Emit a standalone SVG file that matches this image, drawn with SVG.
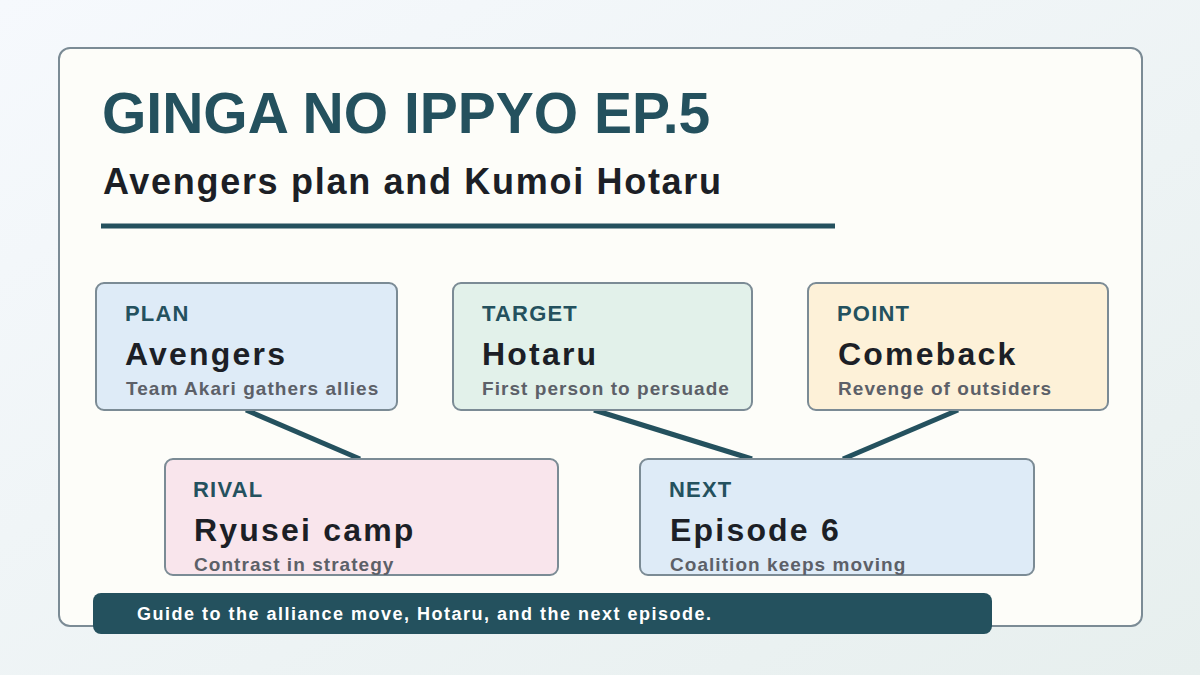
<svg xmlns="http://www.w3.org/2000/svg" width="1200" height="675" viewBox="0 0 1200 675">
<defs>
<linearGradient id="bg" x1="0" y1="0" x2="1" y2="1">
<stop offset="0" stop-color="#f6f9fd"/>
<stop offset="1" stop-color="#e7efee"/>
</linearGradient>
<style>
text{font-family:"Liberation Sans",Arial,sans-serif;font-weight:bold}
.box{stroke:#7b8b95;stroke-width:2}
.lab{font-size:22px;fill:#24515e;letter-spacing:1.2px}
.main{font-size:32px;fill:#1c1f26;letter-spacing:2.2px}
.sub{font-size:19px;fill:#5c6068;letter-spacing:1.05px}
.conn{stroke:#24515e;stroke-width:5;fill:none}
</style>
</defs>
<rect x="0" y="0" width="1200" height="675" fill="url(#bg)"/>
<rect x="59" y="48" width="1083" height="578" rx="11" fill="#fdfdf9" stroke="#7b8b95" stroke-width="2"/>
<g id="title">
<text x="102" y="133" font-size="57" fill="#24515e">GINGA NO IPPYO EP.5</text>
<text x="103" y="194" font-size="36" fill="#1c1f26" letter-spacing="1.7">Avengers plan and Kumoi Hotaru</text>
<line x1="101" y1="226" x2="835" y2="226" stroke="#24515e" stroke-width="5"/>
</g>
<g id="connectors">
<line class="conn" x1="246" y1="410" x2="360" y2="459"/>
<line class="conn" x1="594" y1="410" x2="752" y2="459"/>
<line class="conn" x1="958" y1="410" x2="843" y2="459"/>
</g>
<g id="plan">
<rect class="box" x="96" y="283" width="301" height="127" rx="8" fill="#deebf7"/>
<text class="lab" x="125" y="321">PLAN</text>
<text class="main" x="125" y="365">Avengers</text>
<text class="sub" x="126" y="395">Team Akari gathers allies</text>
</g>
<g id="target">
<rect class="box" x="453" y="283" width="299" height="127" rx="8" fill="#e2f1ea"/>
<text class="lab" x="482" y="321">TARGET</text>
<text class="main" x="482" y="365">Hotaru</text>
<text class="sub" x="482" y="395">First person to persuade</text>
</g>
<g id="point">
<rect class="box" x="808" y="283" width="300" height="127" rx="8" fill="#fdf1d8"/>
<text class="lab" x="837" y="321">POINT</text>
<text class="main" x="838" y="365">Comeback</text>
<text class="sub" x="838" y="395">Revenge of outsiders</text>
</g>
<g id="rival">
<rect class="box" x="165" y="459" width="393" height="116" rx="8" fill="#f9e5ec"/>
<text class="lab" x="193" y="497">RIVAL</text>
<text class="main" x="194" y="541">Ryusei camp</text>
<text class="sub" x="194" y="571">Contrast in strategy</text>
</g>
<g id="next">
<rect class="box" x="640" y="459" width="394" height="116" rx="8" fill="#deebf7"/>
<text class="lab" x="669" y="497">NEXT</text>
<text class="main" x="670" y="541">Episode 6</text>
<text class="sub" x="670" y="571">Coalition keeps moving</text>
</g>
<g id="footer">
<rect x="93" y="593" width="899" height="41" rx="8" fill="#24515e"/>
<text x="137" y="620" font-size="18" fill="#ffffff" letter-spacing="1.5">Guide to the alliance move, Hotaru, and the next episode.</text>
</g>
</svg>
